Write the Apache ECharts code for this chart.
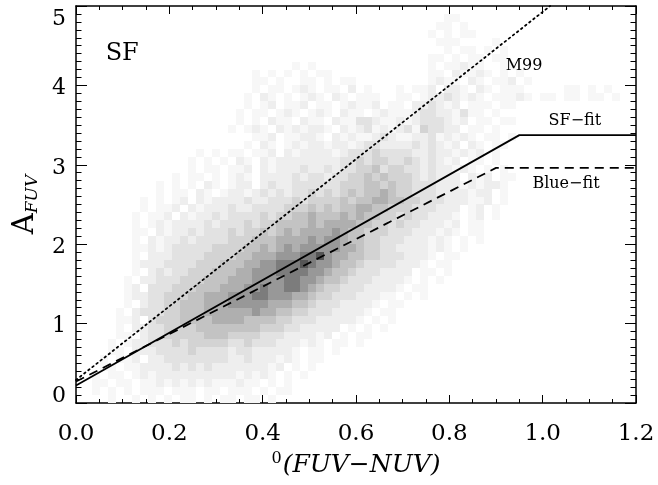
<!DOCTYPE html>
<html>
<head>
<meta charset="utf-8">
<title>A_FUV vs FUV-NUV (SF)</title>
<script src="https://cdn.jsdelivr.net/npm/echarts@6.0.0/dist/echarts.min.js"></script>
<style>
  html, body { margin: 0; padding: 0; background: #fff; }
  #chart { width: 658px; height: 485px; }
</style>
</head>
<body>
<div id="chart"></div>
<script>
// 2D histogram of SF galaxies, grey level 0-9 per cell.
// One string per row of 70 colour bins, top row is A_FUV 4.8-4.9, bottom row 0.0-0.1
const heatRows = [
    '0000000000 0000000000 0000000000 0000000000 0000001100 0000000000 0000000000',
    '0000000000 0000000000 0000000000 0000000000 0000011010 0000000000 0000000000',
    '0000000000 0000000000 0000000000 0000000000 0000101011 0000000000 0000000000',
    '0000000000 0000000000 0000000000 0000000000 0000011100 0010000000 0000000000',
    '0000000000 0000000000 0000000000 0000000000 0000001011 0101000000 0000000000',
    '0000000000 0000000000 0000000000 0000000000 0000110101 1011000000 0000000000',
    '0000000000 0000000000 0000000101 0000000000 0000101121 1001100000 0000000000',
    '0000000000 0000000000 0010101010 1100000000 0000110211 2101010000 0000000000',
    '0000000000 0000000000 0011010011 0101100000 0000121102 1011201000 0000000000',
    '0000000000 0000000000 0010110121 0110201000 1011202210 2101110000 0110101000',
    '0000000000 0000000000 0102101012 1021011100 1101223212 1011121011 0110110100',
    '0000000000 0000000000 0101201120 1101211201 1022321201 1101100000 0000000000',
    '0000000000 0000000000 1011012101 2102110121 1123322131 1010000000 0000000000',
    '0000000000 0000000000 1010211021 1021133211 2123332120 1101100000 0000000000',
    '0000000000 0000000001 0121021212 2102123121 2314332201 1010000000 0000000000',
    '0000000000 0000000000 0011201122 1021211232 1122312121 0110100000 0000000000',
    '0000000000 0000000000 0102101212 2122123322 2232321202 1011000000 0000000000',
    '0000000000 0000010101 1011202122 2212333433 3322322121 2010000000 0000000000',
    '0000000000 0000101010 2102122222 2223343443 3432321201 1010000000 0000000000',
    '0000000000 0000101101 1202122232 2323344534 4332322121 0101000000 0000000000',
    '0000000000 0010110101 2102222323 3233445454 4432322202 1201100000 0000000000',
    '0000000000 1010102101 2202322333 3334445545 4433322212 1221000000 0000000000',
    '0000000000 1011021012 2123232334 3434545565 4433322221 2201000000 0000000000',
    '0000000010 1012021222 2322333434 4445455665 5443332221 1201000000 0000000000',
    '0000000010 1120212223 2233334445 4545566554 4433322201 2010000000 0000000000',
    '0000000101 1202122323 3334344556 5556565544 3433222101 2010000000 0000000000',
    '0000000101 2122223233 3434455556 5666655443 4332221201 1000000000 0000000000',
    '0000000110 2122323334 3445456566 6676554443 3322212101 1000000000 0000000000',
    '0000000102 1223233334 4455566667 6776554433 3222121010 1000000000 0000000000',
    '0000000112 1233333444 4556567677 7776654433 2222121010 0000000000 0000000000',
    '0000000102 2233334444 5566677788 9766554433 3222101100 0000000000 0000000000',
    '0000000122 2333344455 5667788898 7765543333 2221011000 0000000000 0000000000',
    '0000000102 3233444555 6677788887 7655433322 2201101000 0000000000 0000000000',
    '0000001022 3334445556 6677778877 6554333222 2101010000 0000000000 0000000000',
    '0000001203 3344455566 6778778876 5443332222 1011000000 0000000000 0000000000',
    '0000001223 3444556667 7788777665 4433322211 0101000000 0000000000 0000000000',
    '0000001023 3445556667 7777666554 3332222101 1000000000 0000000000 0000000000',
    '0000010233 3445556666 6676655443 3322221011 0000000000 0000000000 0000000000',
    '0000011203 4445555666 6555544333 2222210101 0000000000 0000000000 0000000000',
    '0000010223 3444455555 5554443322 2220101010 0000000000 0000000000 0000000000',
    '0000011023 3444445554 4443332222 1201011000 0000000000 0000000000 0000000000',
    '0000101223 3343444443 3433322212 1011010000 0000000000 0000000000 0000000000',
    '0000110222 3333433332 3322222101 1010000000 0000000000 0000000000 0000000000',
    '0001011202 2333333332 2322212101 1000000000 0000000000 0000000000 0000000000',
    '0001101122 2232323222 2222120101 0000000000 0000000000 0000000000 0000000000',
    '0010110121 2222222222 1212101010 0000000000 0000000000 0000000000 0000000000',
    '0011011011 2121212111 2110101000 0000000000 0000000000 0000000000 0000000000',
    '0010101011 1011101101 1101011000 0000000000 0000000000 0000000000 0000000000',
    '0000100101 0101101011 0110100000 0000000000 0000000000 0000000000 0000000000'
];

// relations, as [FUV-NUV, A_FUV] break points
const m99Line = [[0, 0.29], [1.016, 5.0]];
const sfFitLine = [[0, 0.22], [0.95, 3.374], [1.2, 3.374]];
const blueFitLine = [[0, 0.27], [0.9, 2.961], [1.2, 2.961]];

// text annotations inside the plot
const noteText = ['SF', 'M99', 'SF\u2212fit', 'Blue\u2212fit'];
const noteX = [0.099, 0.960, 1.069, 1.050];
const noteY = [4.395, 4.244, 3.552, 2.758];

const X_MIN = 0, X_MAX = 1.2, Y_MIN = 0, Y_MAX = 5;
const X_BIN = 1.2 / 70;
const Y_BIN = 0.1;

const greys = ['#ffffff', '#f7f7f7', '#eeeeee', '#e2e2e2', '#d3d3d3',
    '#c3c3c3', '#afafaf', '#989898', '#7c7c7c', '#555555'];
const SERIF = '"DejaVu Serif", "Liberation Serif", serif';

// flatten the rows into [x0, y0, level] cells, skipping empty ones
const heatCells = [];
heatRows.forEach((row, r) => {
    const levels = row.replace(/ /g, '');
    const j = heatRows.length - 1 - r;
    for (let i = 0; i < levels.length; i++) {
        const level = +levels[i];
        if (level > 0) heatCells.push([i * X_BIN, j * Y_BIN, level]);
    }
});

const chart = echarts.init(document.getElementById('chart'), null, { renderer: 'canvas' });

function frameAxis(pos, isX, extra) {
    const base = {
        type: 'value',
        position: pos,
        min: isX ? X_MIN : Y_MIN,
        max: isX ? X_MAX : Y_MAX,
        interval: isX ? 0.2 : 1,
        axisLine: { show: true, onZero: false, lineStyle: { color: '#000', width: 1.5 } },
        axisTick: { show: true, inside: true, length: isX ? 8 : 11, lineStyle: { color: '#000', width: 1 } },
        minorTick: { show: true, splitNumber: isX ? 4 : 10, length: isX ? 4 : 5.5, lineStyle: { color: '#000', width: 1 } },
        splitLine: { show: false },
        minorSplitLine: { show: false },
        axisLabel: { show: false }
    };
    return Object.assign(base, extra || {});
}

const yLabelRich = {
    top: { fontFamily: SERIF, fontSize: 22, color: '#000', padding: [26, 0, 0, 0] },
    mid: { fontFamily: SERIF, fontSize: 22, color: '#000', padding: [6, 0, 0, 0] },
    bot: { fontFamily: SERIF, fontSize: 22, color: '#000', padding: [0, 0, 14, 0] }
};

const option = {
    animation: false,
    backgroundColor: '#fff',
    grid: { left: 76, right: 22, top: 6, bottom: 82, containLabel: false },
    xAxis: [
        frameAxis('bottom', true, {
            axisLabel: {
                show: true, color: '#000', fontFamily: SERIF, fontSize: 23, margin: 20,
                formatter: v => v.toFixed(1)
            },
            name: '{sup|0}{it|(FUV\u2212NUV)}',
            nameLocation: 'middle',
            nameGap: 46,
            nameTextStyle: {
                rich: {
                    sup: { fontFamily: SERIF, fontSize: 16, color: '#000', padding: [0, 1, 13, 0] },
                    it: { fontFamily: SERIF, fontSize: 25, fontStyle: 'italic', color: '#000' }
                }
            }
        }),
        frameAxis('top', true)
    ],
    yAxis: [
        frameAxis('left', false, {
            axisLabel: {
                show: true, margin: 10,
                formatter: v => {
                    const s = String(Math.round(v));
                    if (v >= Y_MAX) return '{top|' + s + '}';
                    if (v <= Y_MIN) return '{bot|' + s + '}';
                    return '{mid|' + s + '}';
                },
                rich: yLabelRich
            },
            name: '{a|A}{sub|FUV}',
            nameLocation: 'middle',
            nameGap: 34,
            nameTextStyle: {
                rich: {
                    a: { fontFamily: SERIF, fontSize: 29, color: '#000' },
                    sub: { fontFamily: SERIF, fontSize: 17, fontStyle: 'italic', color: '#000', padding: [14, 0, 0, 0] }
                }
            }
        }),
        frameAxis('right', false)
    ],
    series: [
        {
            name: 'density',
            type: 'custom',
            xAxisIndex: 0,
            yAxisIndex: 0,
            clip: true,
            silent: true,
            data: heatCells,
            renderItem: (params, api) => {
                const x = api.value(0), y = api.value(1);
                const p0 = api.coord([x, y + Y_BIN]);
                const p1 = api.coord([x + X_BIN, y]);
                const x0 = Math.round(p0[0]), y0 = Math.round(p0[1]);
                const x1 = Math.round(p1[0]), y1 = Math.round(p1[1]);
                return {
                    type: 'rect',
                    shape: { x: x0, y: y0, width: x1 - x0, height: y1 - y0 },
                    style: { fill: greys[api.value(2)] }
                };
            },
            z: 1
        },
        {
            name: 'M99',
            type: 'line',
            data: m99Line,
            symbol: 'none',
            clip: true,
            lineStyle: { color: '#000', width: 1.8, type: [1.6, 3.6], cap: 'round' },
            z: 3
        },
        {
            name: 'SF-fit',
            type: 'line',
            data: sfFitLine,
            symbol: 'none',
            clip: true,
            lineStyle: { color: '#000', width: 1.8, type: 'solid' },
            z: 3
        },
        {
            name: 'Blue-fit',
            type: 'line',
            data: blueFitLine,
            symbol: 'none',
            clip: true,
            lineStyle: { color: '#000', width: 1.8, type: [9, 6] },
            z: 3
        },
        {
            name: 'notes',
            type: 'scatter',
            symbolSize: 0,
            silent: true,
            itemStyle: { opacity: 1, color: 'rgba(0,0,0,0)' },
            data: noteText.map((t, i) => ({
                name: t,
                value: [noteX[i], noteY[i]],
                label: { fontSize: i === 0 ? 24 : 16 }
            })),
            label: {
                show: true,
                position: 'inside',
                color: '#000',
                opacity: 1,
                fontFamily: SERIF,
                textBorderWidth: 0,
                formatter: p => p.name
            },
            z: 4
        }
    ]
};

chart.setOption(option);
</script>
</body>
</html>
